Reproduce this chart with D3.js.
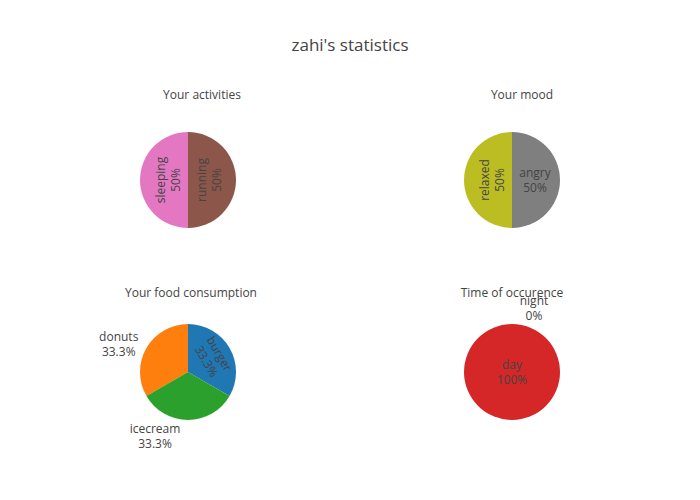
<!DOCTYPE html>
<html><head><meta charset="utf-8">
<script src="https://cdn.jsdelivr.net/npm/d3@7"></script>
<style>body{margin:0;background:#fff}svg{display:block}text{font-family:"Open Sans",verdana,arial,sans-serif}</style>
</head><body>
<svg id="c" width="700" height="500"></svg>
<script>
// ---- data ----
const chartTitle = "zahi's statistics";
const pieTitles = ["Your activities", "Your mood", "Your food consumption", "Time of occurence"];
const activityLabels = ["running", "sleeping"];
const activityValues = [1, 1];
const moodLabels = ["angry", "relaxed"];
const moodValues = [1, 1];
const foodLabels = ["burger", "donuts", "icecream"];
const foodValues = [1, 1, 1];
const timeLabels = ["day", "night"];
const timeValues = [1, 0];

// ---- styling / layout ----
const colors = {
  burger: "#1f77b4", donuts: "#ff7f0e", icecream: "#2ca02c", day: "#d62728", night: "#9467bd",
  running: "#8c564b", sleeping: "#e377c2", angry: "#7f7f7f", relaxed: "#bcbd22"
};
const R = 48;
const pies = [
  {labels: activityLabels, values: activityValues, cx: 188, cy: 180, titleX: 202, titleY: 99,
   text: [{mode: "tan", rf: 0.44}, {mode: "tan", rf: 0.42}]},
  {labels: moodLabels, values: moodValues, cx: 512, cy: 180, titleX: 522, titleY: 99,
   text: [{mode: "hor", rf: 0.48}, {mode: "tan", rf: 0.42}]},
  {labels: foodLabels, values: foodValues, cx: 188, cy: 372, titleX: 191, titleY: 297,
   text: [{mode: "tan", rf: 0.6}, {mode: "out", dx: 0}, {mode: "out", dx: -7}]},
  {labels: timeLabels, values: timeValues, cx: 512, cy: 372, titleX: 512, titleY: 297,
   text: [{mode: "center"}, {mode: "out", dx: 8}]}
];

const svg = d3.select("#c");
svg.append("text").attr("x", 350).attr("y", 51).attr("text-anchor", "middle")
  .attr("font-size", 17).attr("fill", "#444").text(chartTitle);

const arc = d3.arc().innerRadius(0).outerRadius(R);
const fmt = v => {
  const p = v * 100;
  return (Math.abs(p - Math.round(p)) < 1e-9 ? Math.round(p) : p.toFixed(1)) + "%";
};

pies.forEach((p, i) => {
  const total = d3.sum(p.values);
  const start = (p.values[0] / total) * 2 * Math.PI;
  const pie = d3.pie().sort(null).value(d => d).startAngle(start).endAngle(start - 2 * Math.PI);
  const arcs = pie(p.values);
  const g = svg.append("g").attr("transform", `translate(${p.cx},${p.cy})`);

  g.selectAll("path").data(arcs).join("path")
    .attr("d", arc)
    .attr("fill", (d, j) => colors[p.labels[j]]);

  svg.append("text").attr("x", p.titleX).attr("y", p.titleY).attr("text-anchor", "middle")
    .attr("font-size", 12).attr("fill", "#444").text(pieTitles[i]);

  arcs.forEach((d, j) => {
    const cfg = p.text[j];
    const mid = (d.startAngle + d.endAngle) / 2;
    const ux = Math.sin(mid), uy = -Math.cos(mid);
    const lines = [p.labels[j], fmt(d.value / total)];
    const t = g.append("text")
      .attr("text-anchor", "middle").attr("font-size", 12).attr("fill", "#444");
    lines.forEach((s, k) => {
      t.append("tspan").attr("x", 0).attr("y", (k - 0.5) * 15).attr("dy", "0.35em").text(s);
    });
    const w = d3.max(t.selectAll("tspan").nodes(), n => n.getComputedTextLength());
    let x, y, rot = 0;
    if (cfg.mode === "center") { x = 0; y = 0; }
    else if (cfg.mode === "hor") { x = ux * R * cfg.rf; y = uy * R * cfg.rf; }
    else if (cfg.mode === "tan") {
      x = ux * R * cfg.rf; y = uy * R * cfg.rf;
      let deg = (mid * 180 / Math.PI) % 180;
      if (deg < 0) deg += 180;
      if (deg >= 90) deg -= 180;
      rot = deg;
    } else {
      const rr = R + 7;
      x = ux * rr; y = uy * rr;
      if (Math.abs(ux) < 0.15) {
        x += cfg.dx + (ux >= 0 ? 14 : -26);
        y += uy < 0 ? -9 : 9;
      } else {
        x += (ux < 0 ? -1 : 1) * (w / 2 + 2);
      }
    }
    t.attr("transform", `translate(${x},${y}) rotate(${rot})`);
  });
});
</script>
</body></html>
